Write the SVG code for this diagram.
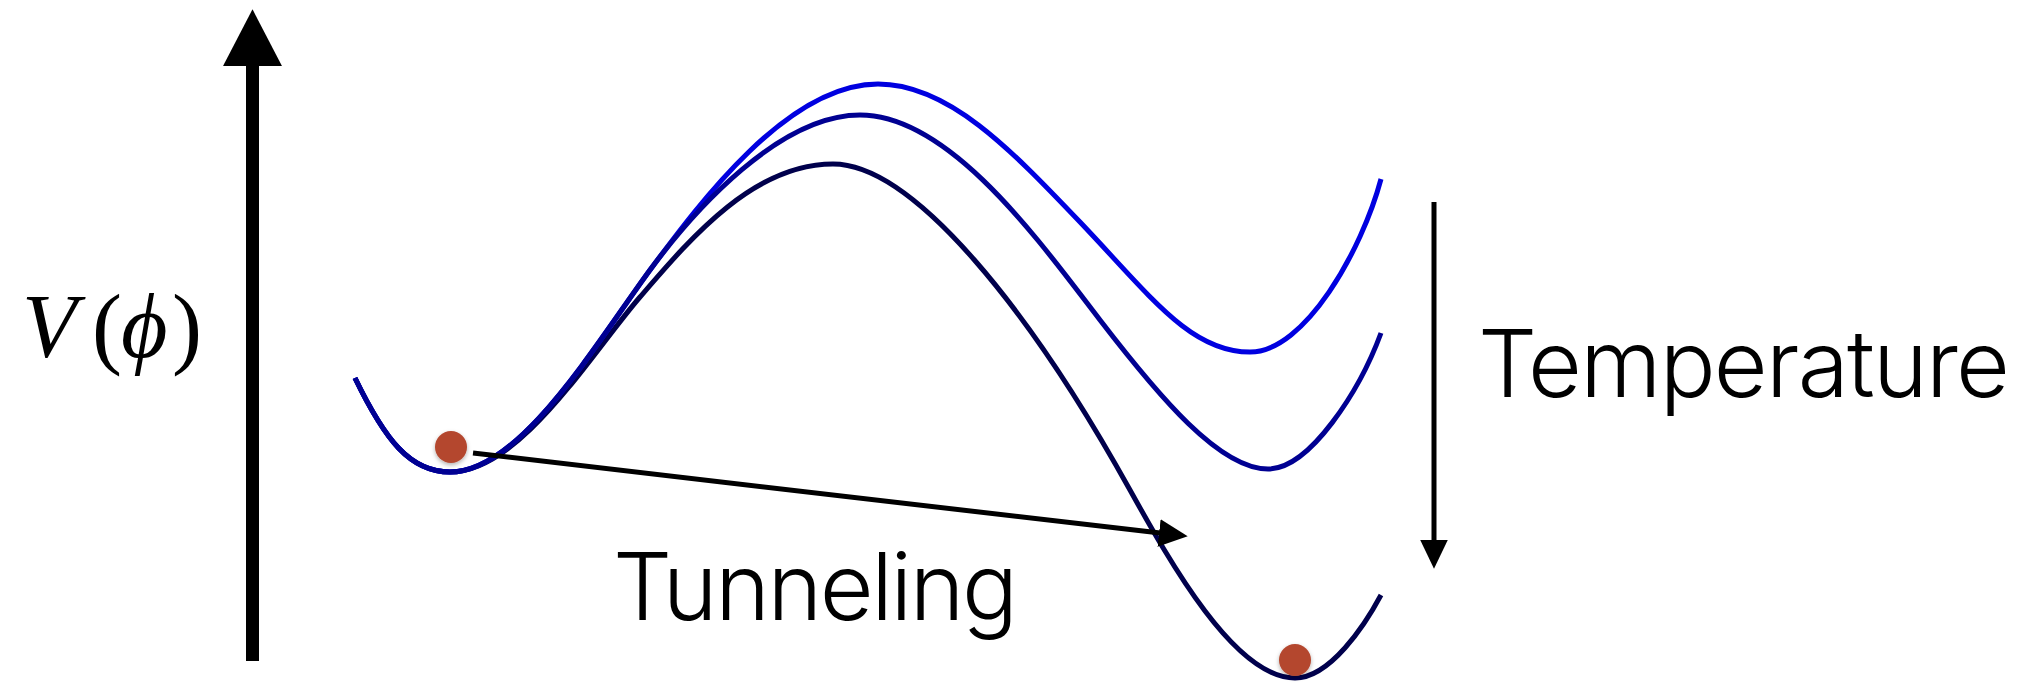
<svg xmlns="http://www.w3.org/2000/svg" width="2021" height="685" viewBox="0 0 2021 685">
  <style>
    .curve { fill: none; stroke-width: 5; stroke-linecap: butt; stroke-linejoin: round; }
    .c1 { stroke: #0000e0; }
    .c2 { stroke: #000092; }
    .c3 { stroke: #00004c; }
    .arrow { stroke: #000; stroke-width: 5; fill: none; }
    .label { font-family: Inter, "Liberation Sans", sans-serif; font-weight: 300; font-size: 93px; fill: #000; }
    .math { font-family: "Liberation Serif", "DejaVu Serif", serif; font-size: 90px; fill: #000; }
    .ball { fill: #b4472f; }
  </style>
  <defs>
    <marker id="head" markerUnits="userSpaceOnUse" markerWidth="30" markerHeight="30" viewBox="0 -13 26 26" refX="1" refY="0" orient="auto">
      <path d="M0,-12 L25,0 L0,12 Z" fill="#000"/>
    </marker>
    <marker id="bighead" markerUnits="userSpaceOnUse" markerWidth="60" markerHeight="60" viewBox="0 -28 54 56" refX="1" refY="0" orient="auto">
      <path d="M0,-27.5 L53,0 L0,27.5 Z" fill="#000"/>
    </marker>
    <filter id="shadow" x="-50%" y="-50%" width="200%" height="200%">
      <feDropShadow dx="0" dy="2" stdDeviation="2" flood-color="#000" flood-opacity="0.3"/>
    </filter>
  </defs>

  <g id="axis">
    <line x1="252.5" y1="661" x2="252.5" y2="65" stroke="#000" stroke-width="13" marker-end="url(#bighead)"/>
  </g>

  <g id="label-V">
    <text class="math" y="357"><tspan x="22" font-style="italic">V</tspan><tspan x="92">(</tspan><tspan x="121" font-style="italic">ϕ</tspan><tspan x="172">)</tspan></text>
  </g>

  <g id="curve-low-T">
    <path class="curve c3" d="M355,378 C385,440 410,472 450,472 C520,472 590,355 640,297 C690,239 753,164 833,164 C913,164 1030,310 1130,490 C1170,562 1235,678 1295,678 C1330,678 1365,625 1381,595"/>
  </g>
  <g id="curve-high-T">
    <path class="curve c1" d="M355,378 C385,440 410,472 450,472 C520,472 595,345 650,270 C700,202.5 788,84 878,84 C948,84 1010,148.5 1080,222 C1150,295.5 1190,352 1250,352 C1305,352 1362,250 1381,179"/>
  </g>
  <g id="curve-mid-T">
    <path class="curve c2" d="M355,378 C385,440 410,472 450,472 C520,472 595,345 650,270 C695,209 780,115 860,115 C950,115 1040,242 1100,320 C1160,398 1220,469 1268,469 C1310,469 1360,390 1381,333"/>
  </g>

  <g id="ball-false-vacuum">
    <circle class="ball" cx="451" cy="447" r="16" filter="url(#shadow)"/>
  </g>
  <g id="ball-true-vacuum">
    <circle class="ball" cx="1295" cy="660" r="16" filter="url(#shadow)"/>
  </g>

  <g id="connectors">
    <line class="arrow" x1="473" y1="453" x2="1160.2" y2="533.1" marker-end="url(#head)"/>
    <line class="arrow" x1="1434" y1="202" x2="1434" y2="541" marker-end="url(#head)"/>
  </g>

  <g id="label-tunneling">
    <text class="label" x="613" y="620" textLength="405" lengthAdjust="spacing">Tunneling</text>
  </g>
  <g id="label-temperature">
    <text class="label" x="1478" y="397" textLength="532" lengthAdjust="spacing">Temperature</text>
  </g>
</svg>
